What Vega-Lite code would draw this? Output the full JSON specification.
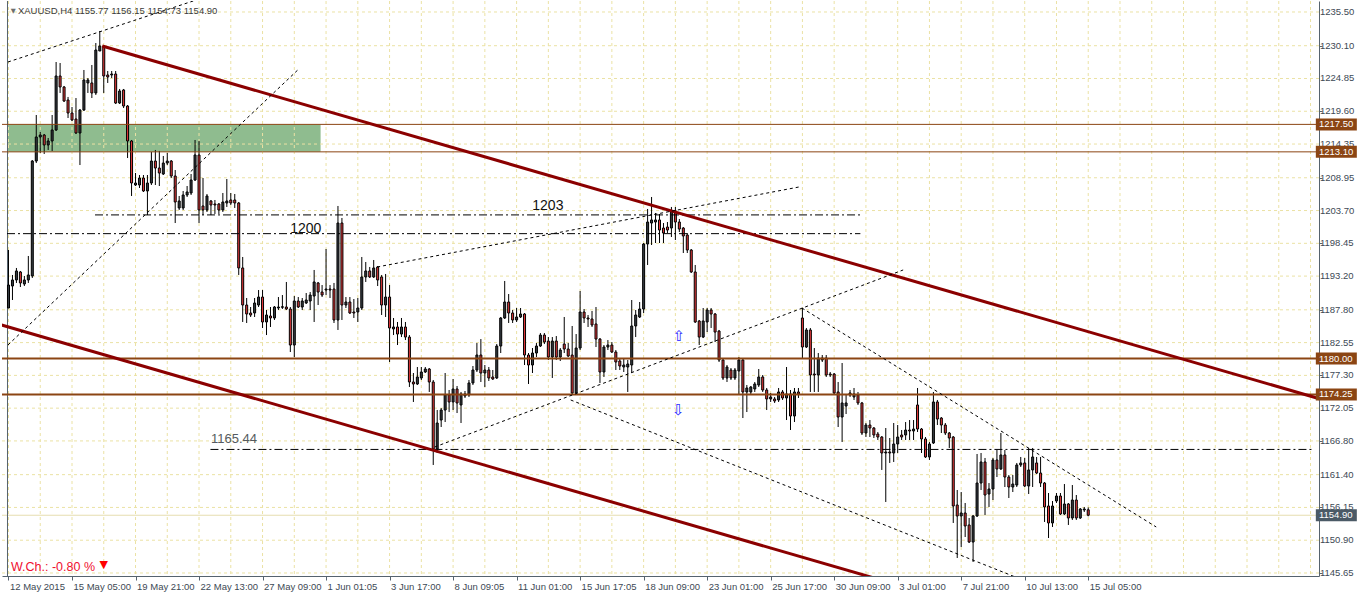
{
"$schema":"https://vega.github.io/schema/vega-lite/v6.json",
"width":1317,"height":575,"autosize":"none",
"padding":{"left":2,"top":1,"right":43,"bottom":18},
"background":"white",
"config":{"view":{"stroke":null},"font":"Liberation Sans","axis":{"labelOverlap":false}},
"datasets":{
"candles":[
{"i":0,"o":1188.09,"h":1197.38,"l":1188.09,"c":1191.77},
{"i":1,"o":1191.61,"h":1193.38,"l":1189.37,"c":1192.58},
{"i":2,"o":1192.58,"h":1194.50,"l":1192.10,"c":1194.02},
{"i":3,"o":1193.86,"h":1194.02,"l":1191.45,"c":1192.10},
{"i":4,"o":1191.93,"h":1193.22,"l":1191.61,"c":1192.58},
{"i":5,"o":1192.58,"h":1196.42,"l":1192.10,"c":1193.38},
{"i":6,"o":1193.22,"h":1211.79,"l":1192.90,"c":1211.63},
{"i":7,"o":1211.63,"h":1219.00,"l":1211.31,"c":1215.48},
{"i":8,"o":1215.48,"h":1216.28,"l":1212.92,"c":1215.80},
{"i":9,"o":1215.80,"h":1215.96,"l":1212.76,"c":1214.20},
{"i":10,"o":1214.20,"h":1215.32,"l":1213.40,"c":1214.84},
{"i":11,"o":1214.84,"h":1219.00,"l":1213.24,"c":1216.60},
{"i":12,"o":1216.60,"h":1227.49,"l":1216.44,"c":1225.25},
{"i":13,"o":1225.25,"h":1227.33,"l":1222.53,"c":1223.49},
{"i":14,"o":1223.49,"h":1223.65,"l":1221.08,"c":1221.24},
{"i":15,"o":1221.40,"h":1221.89,"l":1218.52,"c":1219.32},
{"i":16,"o":1219.32,"h":1220.28,"l":1218.04,"c":1218.20},
{"i":17,"o":1218.36,"h":1221.72,"l":1215.96,"c":1216.12},
{"i":18,"o":1216.12,"h":1219.96,"l":1210.99,"c":1219.80},
{"i":19,"o":1219.80,"h":1226.21,"l":1219.64,"c":1224.61},
{"i":20,"o":1224.13,"h":1224.93,"l":1222.53,"c":1224.61},
{"i":21,"o":1224.13,"h":1227.01,"l":1221.72,"c":1222.53},
{"i":22,"o":1222.53,"h":1230.53,"l":1222.21,"c":1229.41},
{"i":23,"o":1229.25,"h":1232.46,"l":1229.25,"c":1230.05},
{"i":24,"o":1230.05,"h":1230.21,"l":1222.53,"c":1225.25},
{"i":25,"o":1225.41,"h":1226.05,"l":1224.13,"c":1225.09},
{"i":26,"o":1225.41,"h":1226.05,"l":1224.93,"c":1225.57},
{"i":27,"o":1225.57,"h":1226.05,"l":1220.76,"c":1220.92},
{"i":28,"o":1220.92,"h":1223.17,"l":1220.76,"c":1222.85},
{"i":29,"o":1223.01,"h":1223.17,"l":1220.12,"c":1220.44},
{"i":30,"o":1220.44,"h":1220.60,"l":1212.11,"c":1214.84},
{"i":31,"o":1214.84,"h":1215.00,"l":1206.03,"c":1208.11},
{"i":32,"o":1207.79,"h":1209.71,"l":1207.63,"c":1208.11},
{"i":33,"o":1207.79,"h":1209.39,"l":1207.31,"c":1208.91},
{"i":34,"o":1208.91,"h":1209.39,"l":1206.67,"c":1206.83},
{"i":35,"o":1206.83,"h":1209.39,"l":1202.98,"c":1208.11},
{"i":36,"o":1208.11,"h":1213.08,"l":1207.79,"c":1211.63},
{"i":37,"o":1211.63,"h":1213.40,"l":1207.79,"c":1210.51},
{"i":38,"o":1210.51,"h":1213.24,"l":1207.63,"c":1209.71},
{"i":39,"o":1209.55,"h":1212.44,"l":1209.39,"c":1211.31},
{"i":40,"o":1211.31,"h":1212.92,"l":1210.99,"c":1211.63},
{"i":41,"o":1211.63,"h":1211.79,"l":1208.91,"c":1209.23},
{"i":42,"o":1209.23,"h":1210.19,"l":1201.70,"c":1205.07},
{"i":43,"o":1204.11,"h":1206.03,"l":1203.79,"c":1205.23},
{"i":44,"o":1204.11,"h":1206.83,"l":1203.79,"c":1206.19},
{"i":45,"o":1206.19,"h":1207.63,"l":1205.87,"c":1206.67},
{"i":46,"o":1206.51,"h":1209.55,"l":1206.19,"c":1208.59},
{"i":47,"o":1208.59,"h":1215.00,"l":1208.43,"c":1212.60},
{"i":48,"o":1212.60,"h":1214.84,"l":1201.70,"c":1203.79},
{"i":49,"o":1204.43,"h":1208.91,"l":1202.98,"c":1203.79},
{"i":50,"o":1203.79,"h":1206.35,"l":1203.47,"c":1206.03},
{"i":51,"o":1205.23,"h":1205.39,"l":1202.98,"c":1204.59},
{"i":52,"o":1204.75,"h":1205.39,"l":1203.15,"c":1204.59},
{"i":53,"o":1204.75,"h":1204.91,"l":1203.15,"c":1203.79},
{"i":54,"o":1203.79,"h":1206.51,"l":1203.47,"c":1205.07},
{"i":55,"o":1204.91,"h":1208.75,"l":1204.27,"c":1205.23},
{"i":56,"o":1205.39,"h":1206.51,"l":1204.59,"c":1204.91},
{"i":57,"o":1205.39,"h":1206.35,"l":1204.11,"c":1204.91},
{"i":58,"o":1204.91,"h":1205.07,"l":1193.38,"c":1194.50},
{"i":59,"o":1194.50,"h":1196.26,"l":1185.85,"c":1188.57},
{"i":60,"o":1188.57,"h":1189.69,"l":1185.69,"c":1187.13},
{"i":61,"o":1187.29,"h":1188.25,"l":1186.65,"c":1186.97},
{"i":62,"o":1187.29,"h":1189.69,"l":1186.65,"c":1188.89},
{"i":63,"o":1188.57,"h":1190.97,"l":1188.25,"c":1189.85},
{"i":64,"o":1189.85,"h":1190.97,"l":1184.89,"c":1185.85},
{"i":65,"o":1185.85,"h":1187.77,"l":1183.76,"c":1186.97},
{"i":66,"o":1186.81,"h":1188.25,"l":1185.05,"c":1186.49},
{"i":67,"o":1186.49,"h":1188.41,"l":1186.17,"c":1188.25},
{"i":68,"o":1188.09,"h":1189.85,"l":1187.77,"c":1188.25},
{"i":69,"o":1188.20,"h":1190.17,"l":1187.93,"c":1188.30},
{"i":70,"o":1188.25,"h":1192.26,"l":1187.77,"c":1187.93},
{"i":71,"o":1187.93,"h":1188.25,"l":1181.04,"c":1182.16},
{"i":72,"o":1182.16,"h":1190.01,"l":1180.24,"c":1189.21},
{"i":73,"o":1189.21,"h":1189.85,"l":1188.09,"c":1188.25},
{"i":74,"o":1188.25,"h":1189.69,"l":1187.77,"c":1189.21},
{"i":75,"o":1188.89,"h":1190.49,"l":1188.73,"c":1189.37},
{"i":76,"o":1189.21,"h":1190.65,"l":1187.77,"c":1190.17},
{"i":77,"o":1190.01,"h":1194.18,"l":1185.85,"c":1192.26},
{"i":78,"o":1192.10,"h":1192.26,"l":1188.57,"c":1190.65},
{"i":79,"o":1190.65,"h":1191.77,"l":1189.85,"c":1190.17},
{"i":80,"o":1190.97,"h":1197.54,"l":1190.17,"c":1191.13},
{"i":81,"o":1191.13,"h":1191.77,"l":1189.69,"c":1190.97},
{"i":82,"o":1191.13,"h":1192.10,"l":1185.69,"c":1186.17},
{"i":83,"o":1186.17,"h":1204.43,"l":1184.57,"c":1201.70},
{"i":84,"o":1201.70,"h":1202.51,"l":1186.17,"c":1188.57},
{"i":85,"o":1188.57,"h":1189.85,"l":1188.09,"c":1189.05},
{"i":86,"o":1189.05,"h":1189.85,"l":1187.13,"c":1187.29},
{"i":87,"o":1187.45,"h":1189.53,"l":1186.49,"c":1187.29},
{"i":88,"o":1187.45,"h":1189.69,"l":1185.85,"c":1188.09},
{"i":89,"o":1188.09,"h":1196.26,"l":1187.77,"c":1193.06},
{"i":90,"o":1193.06,"h":1195.46,"l":1192.26,"c":1194.02},
{"i":91,"o":1194.02,"h":1194.66,"l":1192.90,"c":1193.06},
{"i":92,"o":1193.06,"h":1195.78,"l":1192.90,"c":1194.50},
{"i":93,"o":1194.66,"h":1194.82,"l":1191.61,"c":1192.58},
{"i":94,"o":1193.06,"h":1193.38,"l":1186.97,"c":1188.57},
{"i":95,"o":1188.57,"h":1193.54,"l":1186.65,"c":1189.85},
{"i":96,"o":1189.85,"h":1191.77,"l":1179.44,"c":1184.89},
{"i":97,"o":1184.73,"h":1186.49,"l":1183.76,"c":1185.05},
{"i":98,"o":1185.05,"h":1185.85,"l":1182.16,"c":1183.92},
{"i":99,"o":1183.92,"h":1186.49,"l":1183.44,"c":1185.05},
{"i":100,"o":1185.05,"h":1185.85,"l":1182.96,"c":1183.44},
{"i":101,"o":1183.44,"h":1183.76,"l":1175.44,"c":1176.24},
{"i":102,"o":1176.24,"h":1177.68,"l":1173.04,"c":1175.92},
{"i":103,"o":1175.92,"h":1178.64,"l":1175.76,"c":1177.04},
{"i":104,"o":1176.88,"h":1178.64,"l":1176.56,"c":1177.84},
{"i":105,"o":1177.84,"h":1178.64,"l":1177.68,"c":1178.32},
{"i":106,"o":1178.32,"h":1178.48,"l":1174.64,"c":1176.24},
{"i":107,"o":1176.24,"h":1176.56,"l":1162.95,"c":1165.51},
{"i":108,"o":1165.51,"h":1171.75,"l":1164.87,"c":1169.67},
{"i":109,"o":1170.15,"h":1172.07,"l":1169.03,"c":1171.75},
{"i":110,"o":1171.75,"h":1177.68,"l":1169.83,"c":1174.16},
{"i":111,"o":1174.16,"h":1174.96,"l":1171.43,"c":1173.04},
{"i":112,"o":1173.04,"h":1176.72,"l":1171.75,"c":1175.12},
{"i":113,"o":1175.12,"h":1175.60,"l":1171.27,"c":1172.88},
{"i":114,"o":1172.56,"h":1174.64,"l":1169.67,"c":1174.32},
{"i":115,"o":1174.00,"h":1174.80,"l":1173.68,"c":1174.32},
{"i":116,"o":1174.16,"h":1176.56,"l":1173.84,"c":1176.08},
{"i":117,"o":1176.08,"h":1178.80,"l":1175.76,"c":1178.16},
{"i":118,"o":1178.16,"h":1182.48,"l":1177.84,"c":1180.56},
{"i":119,"o":1180.56,"h":1183.12,"l":1176.24,"c":1177.68},
{"i":120,"o":1177.68,"h":1178.96,"l":1175.44,"c":1178.16},
{"i":121,"o":1178.16,"h":1178.64,"l":1176.40,"c":1176.88},
{"i":122,"o":1177.04,"h":1178.16,"l":1176.56,"c":1176.72},
{"i":123,"o":1176.88,"h":1182.32,"l":1176.72,"c":1182.00},
{"i":124,"o":1182.00,"h":1186.65,"l":1180.88,"c":1186.49},
{"i":125,"o":1186.49,"h":1192.42,"l":1186.33,"c":1189.05},
{"i":126,"o":1189.05,"h":1190.33,"l":1185.69,"c":1187.29},
{"i":127,"o":1187.29,"h":1187.77,"l":1185.69,"c":1186.17},
{"i":128,"o":1186.17,"h":1188.09,"l":1185.85,"c":1186.65},
{"i":129,"o":1186.65,"h":1188.09,"l":1186.49,"c":1187.13},
{"i":130,"o":1187.13,"h":1187.29,"l":1178.96,"c":1180.56},
{"i":131,"o":1180.56,"h":1180.88,"l":1175.92,"c":1178.96},
{"i":132,"o":1178.96,"h":1181.68,"l":1177.68,"c":1180.88},
{"i":133,"o":1180.88,"h":1182.48,"l":1180.24,"c":1182.00},
{"i":134,"o":1182.00,"h":1184.08,"l":1181.84,"c":1183.76},
{"i":135,"o":1183.76,"h":1184.08,"l":1182.32,"c":1182.64},
{"i":136,"o":1182.80,"h":1183.44,"l":1179.76,"c":1180.24},
{"i":137,"o":1180.24,"h":1183.44,"l":1176.88,"c":1182.80},
{"i":138,"o":1182.80,"h":1183.60,"l":1179.76,"c":1180.24},
{"i":139,"o":1180.24,"h":1181.68,"l":1179.60,"c":1181.36},
{"i":140,"o":1182.32,"h":1186.65,"l":1180.88,"c":1181.52},
{"i":141,"o":1181.52,"h":1182.48,"l":1180.24,"c":1180.40},
{"i":142,"o":1180.56,"h":1185.21,"l":1174.16,"c":1174.48},
{"i":143,"o":1174.48,"h":1183.92,"l":1174.16,"c":1181.68},
{"i":144,"o":1181.68,"h":1190.81,"l":1181.36,"c":1187.45},
{"i":145,"o":1187.45,"h":1187.93,"l":1185.69,"c":1186.49},
{"i":146,"o":1186.49,"h":1186.97,"l":1185.05,"c":1186.33},
{"i":147,"o":1186.33,"h":1187.61,"l":1185.05,"c":1185.37},
{"i":148,"o":1185.53,"h":1188.25,"l":1181.84,"c":1183.12},
{"i":149,"o":1183.12,"h":1183.28,"l":1176.08,"c":1177.84},
{"i":150,"o":1177.84,"h":1182.16,"l":1177.04,"c":1181.84},
{"i":151,"o":1181.84,"h":1182.96,"l":1181.36,"c":1182.16},
{"i":152,"o":1182.16,"h":1182.64,"l":1180.88,"c":1181.04},
{"i":153,"o":1181.04,"h":1181.36,"l":1178.16,"c":1179.44},
{"i":154,"o":1179.60,"h":1180.08,"l":1178.16,"c":1178.80},
{"i":155,"o":1178.64,"h":1180.08,"l":1177.84,"c":1178.96},
{"i":156,"o":1178.64,"h":1179.76,"l":1174.64,"c":1179.12},
{"i":157,"o":1178.96,"h":1189.37,"l":1177.68,"c":1185.21},
{"i":158,"o":1185.21,"h":1187.77,"l":1183.44,"c":1186.97},
{"i":159,"o":1186.65,"h":1189.05,"l":1186.49,"c":1187.93},
{"i":160,"o":1187.93,"h":1198.50,"l":1187.29,"c":1198.34},
{"i":161,"o":1198.34,"h":1203.95,"l":1194.98,"c":1201.86},
{"i":162,"o":1201.70,"h":1205.87,"l":1198.18,"c":1202.19},
{"i":163,"o":1201.86,"h":1203.31,"l":1198.50,"c":1202.19},
{"i":164,"o":1202.19,"h":1203.15,"l":1198.50,"c":1200.58},
{"i":165,"o":1200.90,"h":1201.70,"l":1198.50,"c":1200.10},
{"i":166,"o":1201.06,"h":1201.86,"l":1200.10,"c":1200.58},
{"i":167,"o":1200.90,"h":1204.27,"l":1199.46,"c":1203.63},
{"i":168,"o":1203.63,"h":1204.27,"l":1198.98,"c":1201.86},
{"i":169,"o":1201.86,"h":1202.35,"l":1200.26,"c":1200.74},
{"i":170,"o":1200.90,"h":1201.06,"l":1196.90,"c":1199.62},
{"i":171,"o":1199.78,"h":1200.10,"l":1196.90,"c":1197.38},
{"i":172,"o":1197.38,"h":1197.54,"l":1193.70,"c":1193.86},
{"i":173,"o":1193.86,"h":1194.98,"l":1185.69,"c":1185.85},
{"i":174,"o":1186.01,"h":1186.17,"l":1182.16,"c":1183.44},
{"i":175,"o":1183.44,"h":1188.09,"l":1183.28,"c":1186.01},
{"i":176,"o":1185.85,"h":1188.09,"l":1184.24,"c":1187.77},
{"i":177,"o":1187.77,"h":1188.09,"l":1184.89,"c":1187.13},
{"i":178,"o":1187.13,"h":1187.29,"l":1182.64,"c":1184.24},
{"i":179,"o":1184.40,"h":1184.57,"l":1179.44,"c":1179.76},
{"i":180,"o":1179.76,"h":1180.08,"l":1176.56,"c":1176.88},
{"i":181,"o":1176.88,"h":1178.96,"l":1176.24,"c":1178.64},
{"i":182,"o":1178.16,"h":1178.48,"l":1176.56,"c":1176.88},
{"i":183,"o":1176.88,"h":1178.48,"l":1176.56,"c":1178.16},
{"i":184,"o":1178.00,"h":1180.24,"l":1174.16,"c":1179.76},
{"i":185,"o":1179.76,"h":1180.08,"l":1170.47,"c":1174.64},
{"i":186,"o":1174.64,"h":1175.76,"l":1171.43,"c":1175.28},
{"i":187,"o":1174.64,"h":1175.60,"l":1174.16,"c":1175.44},
{"i":188,"o":1175.12,"h":1176.24,"l":1174.64,"c":1175.92},
{"i":189,"o":1175.76,"h":1178.32,"l":1175.44,"c":1177.04},
{"i":190,"o":1177.04,"h":1177.36,"l":1174.64,"c":1174.96},
{"i":191,"o":1174.96,"h":1175.28,"l":1171.75,"c":1173.52},
{"i":192,"o":1173.52,"h":1174.48,"l":1173.04,"c":1173.84},
{"i":193,"o":1173.52,"h":1173.84,"l":1172.88,"c":1173.20},
{"i":194,"o":1173.36,"h":1175.28,"l":1173.04,"c":1174.64},
{"i":195,"o":1174.64,"h":1174.96,"l":1173.36,"c":1173.68},
{"i":196,"o":1173.68,"h":1178.64,"l":1170.15,"c":1174.32},
{"i":197,"o":1174.32,"h":1174.96,"l":1168.55,"c":1170.79},
{"i":198,"o":1170.79,"h":1175.28,"l":1169.83,"c":1174.64},
{"i":199,"o":1174.64,"h":1175.28,"l":1173.68,"c":1174.32},
{"i":200,"o":1186.49,"h":1188.09,"l":1180.08,"c":1181.84},
{"i":201,"o":1181.84,"h":1184.89,"l":1181.68,"c":1184.57},
{"i":202,"o":1184.57,"h":1184.89,"l":1174.64,"c":1177.36},
{"i":203,"o":1177.52,"h":1181.68,"l":1174.64,"c":1177.36},
{"i":204,"o":1177.36,"h":1180.88,"l":1174.64,"c":1180.08},
{"i":205,"o":1179.76,"h":1180.56,"l":1179.44,"c":1180.08},
{"i":206,"o":1180.08,"h":1180.56,"l":1177.04,"c":1177.36},
{"i":207,"o":1177.52,"h":1177.84,"l":1177.04,"c":1177.36},
{"i":208,"o":1177.52,"h":1177.68,"l":1174.16,"c":1174.48},
{"i":209,"o":1174.64,"h":1176.24,"l":1169.03,"c":1170.63},
{"i":210,"o":1170.63,"h":1179.28,"l":1166.63,"c":1172.88},
{"i":211,"o":1172.40,"h":1174.16,"l":1171.11,"c":1172.88},
{"i":212,"o":1174.16,"h":1174.96,"l":1173.84,"c":1174.48},
{"i":213,"o":1173.84,"h":1175.28,"l":1173.36,"c":1174.32},
{"i":214,"o":1174.16,"h":1174.64,"l":1172.56,"c":1172.88},
{"i":215,"o":1172.88,"h":1173.04,"l":1167.75,"c":1168.07},
{"i":216,"o":1168.07,"h":1169.67,"l":1167.43,"c":1169.35},
{"i":217,"o":1169.35,"h":1170.15,"l":1167.43,"c":1168.87},
{"i":218,"o":1168.87,"h":1169.03,"l":1167.27,"c":1167.75},
{"i":219,"o":1167.91,"h":1168.23,"l":1166.95,"c":1167.43},
{"i":220,"o":1167.43,"h":1167.59,"l":1162.15,"c":1164.87},
{"i":221,"o":1164.87,"h":1168.87,"l":1157.02,"c":1165.03},
{"i":222,"o":1165.03,"h":1167.27,"l":1163.27,"c":1164.87},
{"i":223,"o":1164.87,"h":1169.67,"l":1163.43,"c":1166.31},
{"i":224,"o":1166.31,"h":1169.35,"l":1164.87,"c":1167.43},
{"i":225,"o":1167.75,"h":1168.55,"l":1166.95,"c":1167.43},
{"i":226,"o":1167.75,"h":1169.83,"l":1166.95,"c":1168.55},
{"i":227,"o":1168.55,"h":1170.15,"l":1166.95,"c":1168.39},
{"i":228,"o":1168.39,"h":1170.15,"l":1166.95,"c":1168.71},
{"i":229,"o":1172.56,"h":1175.28,"l":1168.23,"c":1168.71},
{"i":230,"o":1168.71,"h":1168.87,"l":1164.87,"c":1167.11},
{"i":231,"o":1167.11,"h":1167.43,"l":1164.07,"c":1164.23},
{"i":232,"o":1164.23,"h":1166.63,"l":1163.75,"c":1166.31},
{"i":233,"o":1166.47,"h":1174.64,"l":1166.31,"c":1173.04},
{"i":234,"o":1173.04,"h":1173.36,"l":1169.35,"c":1170.31},
{"i":235,"o":1170.47,"h":1170.63,"l":1168.07,"c":1169.35},
{"i":236,"o":1169.35,"h":1169.67,"l":1167.75,"c":1168.07},
{"i":237,"o":1168.07,"h":1168.23,"l":1165.67,"c":1167.27},
{"i":238,"o":1167.43,"h":1167.59,"l":1153.66,"c":1156.38},
{"i":239,"o":1156.54,"h":1158.94,"l":1148.05,"c":1154.78},
{"i":240,"o":1154.78,"h":1158.62,"l":1149.81,"c":1155.26},
{"i":241,"o":1155.26,"h":1156.86,"l":1151.41,"c":1153.18},
{"i":242,"o":1153.34,"h":1154.46,"l":1150.45,"c":1150.61},
{"i":243,"o":1150.61,"h":1154.94,"l":1147.41,"c":1154.78},
{"i":244,"o":1154.78,"h":1164.71,"l":1154.62,"c":1160.06},
{"i":245,"o":1160.06,"h":1164.87,"l":1158.94,"c":1163.43},
{"i":246,"o":1163.43,"h":1164.07,"l":1154.94,"c":1158.14},
{"i":247,"o":1158.30,"h":1160.06,"l":1156.22,"c":1159.10},
{"i":248,"o":1159.10,"h":1164.07,"l":1157.34,"c":1163.75},
{"i":249,"o":1163.75,"h":1165.35,"l":1161.02,"c":1162.31},
{"i":250,"o":1162.31,"h":1168.07,"l":1162.15,"c":1164.55},
{"i":251,"o":1164.55,"h":1165.35,"l":1159.42,"c":1161.02},
{"i":252,"o":1161.02,"h":1161.34,"l":1157.66,"c":1159.42},
{"i":253,"o":1159.42,"h":1161.34,"l":1158.62,"c":1159.90},
{"i":254,"o":1159.74,"h":1163.27,"l":1159.42,"c":1162.95},
{"i":255,"o":1162.95,"h":1164.23,"l":1162.63,"c":1163.27},
{"i":256,"o":1163.27,"h":1164.07,"l":1159.42,"c":1159.58},
{"i":257,"o":1159.58,"h":1165.67,"l":1158.30,"c":1162.15},
{"i":258,"o":1162.15,"h":1165.67,"l":1159.42,"c":1164.23},
{"i":259,"o":1163.27,"h":1164.23,"l":1161.50,"c":1161.66},
{"i":260,"o":1161.66,"h":1164.23,"l":1159.42,"c":1160.06},
{"i":261,"o":1160.06,"h":1160.22,"l":1153.82,"c":1156.22},
{"i":262,"o":1156.38,"h":1158.46,"l":1151.25,"c":1153.66},
{"i":263,"o":1153.66,"h":1157.18,"l":1153.02,"c":1156.38},
{"i":264,"o":1157.18,"h":1158.46,"l":1156.86,"c":1157.98},
{"i":265,"o":1157.98,"h":1158.46,"l":1154.94,"c":1155.10},
{"i":266,"o":1155.10,"h":1159.90,"l":1154.94,"c":1156.70},
{"i":267,"o":1156.70,"h":1156.86,"l":1153.34,"c":1154.46},
{"i":268,"o":1154.46,"h":1159.74,"l":1154.14,"c":1157.34},
{"i":269,"o":1157.34,"h":1158.14,"l":1154.14,"c":1154.46},
{"i":270,"o":1154.46,"h":1156.06,"l":1154.30,"c":1155.90},
{"i":271,"o":1155.74,"h":1156.22,"l":1155.42,"c":1155.90},
{"i":272,"o":1155.77,"h":1156.15,"l":1154.73,"c":1154.90}
],
"ygrid":[{"g":1235.50},{"g":1230.10},{"g":1224.85},{"g":1219.60},{"g":1214.35},{"g":1208.95},{"g":1203.70},{"g":1198.45},{"g":1193.20},{"g":1187.80},{"g":1182.55},{"g":1177.30},{"g":1172.05},{"g":1166.80},{"g":1161.40},{"g":1156.15},{"g":1150.90},{"g":1145.65}],
"xgrid":[{"g":0},{"g":8},{"g":16},{"g":24},{"g":32},{"g":40},{"g":48},{"g":56},{"g":64},{"g":72},{"g":80},{"g":88},{"g":96},{"g":104},{"g":112},{"g":120},{"g":128},{"g":136},{"g":144},{"g":152},{"g":160},{"g":168},{"g":176},{"g":184},{"g":192},{"g":200},{"g":208},{"g":216},{"g":224},{"g":232},{"g":240},{"g":248},{"g":256},{"g":264},{"g":272},{"g":280},{"g":288},{"g":296},{"g":304},{"g":312},{"g":320},{"g":328}],
"boxes":[{"p":1217.50,"kind":"level"},{"p":1213.10,"kind":"level"},{"p":1180.00,"kind":"level"},{"p":1174.25,"kind":"level"},{"p":1154.90,"kind":"bid"}]
},
"layer":[
{"data":{"values":[{"i1":-0.375,"i2":78.625,"p1":1213.1,"p2":1217.5}]},
 "mark":{"type":"rect","color":"#8fbc8f"},
 "encoding":{"x":{"field":"i1","type":"quantitative","scale":{"domain":[-0.375,328.875],"nice":false,"zero":false}},
  "x2":{"field":"i2"},
  "y":{"field":"p1","type":"quantitative","scale":{"domain":[1145.168,1237.26],"nice":false,"zero":false}},
  "y2":{"field":"p2"}}},
{"data":{"name":"ygrid"},
 "mark":{"type":"rule","color":"#ebe2a4","strokeDash":[3,3],"strokeWidth":1},
 "encoding":{"y":{"field":"g","type":"quantitative","scale":{"domain":[1145.168,1237.26],"nice":false,"zero":false}}}},
{"data":{"name":"xgrid"},
 "mark":{"type":"rule","color":"#ebe2a4","strokeDash":[3,3],"strokeWidth":1},
 "encoding":{"x":{"field":"g","type":"quantitative","scale":{"domain":[-0.375,328.875],"nice":false,"zero":false}}}},
{"data":{"values":[{"p":1154.90}]},
 "mark":{"type":"rule","color":"#e6ddb0","strokeWidth":1},
 "encoding":{"y":{"field":"p","type":"quantitative","scale":{"domain":[1145.168,1237.26],"nice":false,"zero":false}}}},
{"data":{"values":[{"b":1}]},
 "mark":{"type":"rule","color":"#56636e","strokeWidth":1},
 "encoding":{"x":{"datum":-0.25,"type":"quantitative","scale":{"domain":[-0.375,328.875],"nice":false,"zero":false}}}},
{"data":{"name":"candles"},
 "mark":{"type":"rule","color":"#000000","strokeWidth":1},
 "encoding":{
  "x":{"field":"i","type":"quantitative","scale":{"domain":[-0.375,328.875],"nice":false,"zero":false},
   "axis":{"orient":"bottom","values":[0,16,32,48,64,80,96,112,128,144,160,176,192,208,224,240,256,272],
    "labelExpr":"['12 May 2015','15 May 05:00','19 May 21:00','22 May 13:00','27 May 09:00','1 Jun 01:05','3 Jun 17:00','8 Jun 09:05','11 Jun 01:00','15 Jun 17:05','18 Jun 09:00','23 Jun 01:00','25 Jun 17:00','30 Jun 09:00','3 Jul 01:00','7 Jul 21:00','10 Jul 13:00','15 Jul 05:00'][round(datum.value/16)]",
    "grid":false,"title":null,"domain":true,"ticks":true,"labels":true,"domainColor":"#56636e","tickColor":"#56636e","tickSize":4,"labelAlign":"left","labelOffset":1,"labelPadding":1,"labelBaseline":"top","labelFont":"Liberation Sans","labelFontSize":9.5,"labelColor":"#3d4954","labelOverlap":false,"labelFlush":false}},
  "y":{"field":"l","type":"quantitative","scale":{"domain":[1145.168,1237.26],"nice":false,"zero":false},
   "axis":{"orient":"right","values":[1235.50,1230.10,1224.85,1219.60,1214.35,1208.95,1203.70,1198.45,1193.20,1187.80,1182.55,1177.30,1172.05,1166.80,1161.40,1156.15,1150.90,1145.65],
    "grid":false,"title":null,"domain":true,"ticks":true,"labels":false,"domainColor":"#56636e","tickColor":"#56636e","tickSize":3}},
  "y2":{"field":"h"}}},
{"data":{"name":"candles"},
 "mark":{"type":"bar","orient":"vertical","size":2,"stroke":"#000000","strokeWidth":1},
 "encoding":{
  "x":{"field":"i","type":"quantitative","scale":{"domain":[-0.375,328.875],"nice":false,"zero":false}},
  "y":{"field":"o","type":"quantitative","scale":{"domain":[1145.168,1237.26],"nice":false,"zero":false}},
  "y2":{"field":"c"},
  "color":{"condition":{"test":"datum.c >= datum.o","value":"#363c42"},"value":"#e5393b"}}},
{"data":{"values":[{"p":1217.50},{"p":1213.10}]},
 "mark":{"type":"rule","color":"#8b4513","strokeWidth":1},
 "encoding":{"y":{"field":"p","type":"quantitative","scale":{"domain":[1145.168,1237.26],"nice":false,"zero":false}}}},
{"data":{"values":[{"p":1180.00},{"p":1174.25}]},
 "mark":{"type":"rule","color":"#8b4513","strokeWidth":2},
 "encoding":{"y":{"field":"p","type":"quantitative","scale":{"domain":[1145.168,1237.26],"nice":false,"zero":false}}}},
{"data":{"values":[{"p":1203.0,"i1":21.8,"i2":214.6},{"p":1200.0,"i1":-0.375,"i2":214.6},{"p":1165.44,"i1":50.875,"i2":328.875}]},
 "mark":{"type":"rule","color":"#000000","strokeWidth":1,"strokeDash":[8,3,2,3]},
 "encoding":{"x":{"field":"i1","type":"quantitative","scale":{"domain":[-0.375,328.875],"nice":false,"zero":false}},
  "x2":{"field":"i2"},
  "y":{"field":"p","type":"quantitative","scale":{"domain":[1145.168,1237.26],"nice":false,"zero":false}}}},
{"data":{"values":[{"i1":23.625,"p1":1230.05,"i2":331.6,"p2":1173.31},{"i1":-3.375,"p1":1185.66,"i2":224.125,"p2":1143.73}]},
 "mark":{"type":"rule","color":"#8b0000","strokeWidth":3,"clip":true},
 "encoding":{"x":{"field":"i1","type":"quantitative","scale":{"domain":[-0.375,328.875],"nice":false,"zero":false}},
  "x2":{"field":"i2"},
  "y":{"field":"p1","type":"quantitative","scale":{"domain":[1145.168,1237.26],"nice":false,"zero":false}},
  "y2":{"field":"p2"}}},
{"data":{"values":[
  {"i1":-0.125,"p1":1227.49,"i2":46.625,"p2":1237.28},
  {"i1":-0.125,"p1":1182.17,"i2":72.875,"p2":1226.21},
  {"i1":92.875,"p1":1194.66,"i2":199.125,"p2":1207.47},
  {"i1":107.375,"p1":1165.83,"i2":225.375,"p2":1194.18},
  {"i1":141.625,"p1":1173.36,"i2":253.625,"p2":1145.01},
  {"i1":199.875,"p1":1188.09,"i2":289.125,"p2":1153.02}]},
 "mark":{"type":"rule","color":"#000000","strokeWidth":1,"strokeDash":[3,3],"clip":true},
 "encoding":{"x":{"field":"i1","type":"quantitative","scale":{"domain":[-0.375,328.875],"nice":false,"zero":false}},
  "x2":{"field":"i2"},
  "y":{"field":"p1","type":"quantitative","scale":{"domain":[1145.168,1237.26],"nice":false,"zero":false}},
  "y2":{"field":"p2"}}},
{"data":{"values":[{"i":135.875,"p":1203.79,"t":"1203"},{"i":74.875,"p":1200.15,"t":"1200"}]},
 "mark":{"type":"text","font":"Liberation Sans","fontSize":14,"color":"#111111","align":"center","baseline":"alphabetic"},
 "encoding":{"x":{"field":"i","type":"quantitative","scale":{"domain":[-0.375,328.875],"nice":false,"zero":false}},
  "y":{"field":"p","type":"quantitative","scale":{"domain":[1145.168,1237.26],"nice":false,"zero":false}},
  "text":{"field":"t"}}},
{"data":{"values":[{"i":51.0,"p":1166.42,"t":"1165.44"}]},
 "mark":{"type":"text","font":"Liberation Sans","fontSize":13,"color":"#555b60","align":"left","baseline":"alphabetic"},
 "encoding":{"x":{"field":"i","type":"quantitative","scale":{"domain":[-0.375,328.875],"nice":false,"zero":false}},
  "y":{"field":"p","type":"quantitative","scale":{"domain":[1145.168,1237.26],"nice":false,"zero":false}},
  "text":{"field":"t"}}},
{"data":{"values":[{"i":168.9,"p":1183.61,"t":"⇧"},{"i":168.7,"p":1171.83,"t":"⇩"}]},
 "mark":{"type":"text","font":"DejaVu Sans","fontSize":15,"color":"#2a2aff","align":"center","baseline":"middle"},
 "encoding":{"x":{"field":"i","type":"quantitative","scale":{"domain":[-0.375,328.875],"nice":false,"zero":false}},
  "y":{"field":"p","type":"quantitative","scale":{"domain":[1145.168,1237.26],"nice":false,"zero":false}},
  "text":{"field":"t"}}},
{"data":{"values":[{"i":2.375,"p":1235.10,"t":"XAUUSD,H4  1155.77 1156.15 1154.73 1154.90"}]},
 "mark":{"type":"text","font":"Liberation Sans","fontSize":9.5,"color":"#3a3a3a","align":"left","baseline":"alphabetic"},
 "encoding":{"x":{"field":"i","type":"quantitative","scale":{"domain":[-0.375,328.875],"nice":false,"zero":false}},
  "y":{"field":"p","type":"quantitative","scale":{"domain":[1145.168,1237.26],"nice":false,"zero":false}},
  "text":{"field":"t"}}},
{"data":{"values":[{"i":1.2,"p":1235.61,"t":"▼"}]},
 "mark":{"type":"text","font":"DejaVu Sans","fontSize":6.5,"color":"#6e6e6e","align":"center","baseline":"middle"},
 "encoding":{"x":{"field":"i","type":"quantitative","scale":{"domain":[-0.375,328.875],"nice":false,"zero":false}},
  "y":{"field":"p","type":"quantitative","scale":{"domain":[1145.168,1237.26],"nice":false,"zero":false}},
  "text":{"field":"t"}}},
{"data":{"values":[{"i":0.625,"p":1145.89,"t":"W.Ch.: -0.80 %"}]},
 "mark":{"type":"text","font":"Liberation Sans","fontSize":12.5,"color":"#f01030","align":"left","baseline":"alphabetic"},
 "encoding":{"x":{"field":"i","type":"quantitative","scale":{"domain":[-0.375,328.875],"nice":false,"zero":false}},
  "y":{"field":"p","type":"quantitative","scale":{"domain":[1145.168,1237.26],"nice":false,"zero":false}},
  "text":{"field":"t"}}},
{"data":{"values":[{"i":24.0,"p":1146.93,"t":"▼"}]},
 "mark":{"type":"text","font":"DejaVu Sans","fontSize":11,"color":"#ff0000","align":"center","baseline":"middle"},
 "encoding":{"x":{"field":"i","type":"quantitative","scale":{"domain":[-0.375,328.875],"nice":false,"zero":false}},
  "y":{"field":"p","type":"quantitative","scale":{"domain":[1145.168,1237.26],"nice":false,"zero":false}},
  "text":{"field":"t"}}},
{"data":{"name":"ygrid"},
 "mark":{"type":"text","font":"Liberation Sans","fontSize":9.5,"color":"#3d4954","align":"left","baseline":"middle"},
 "encoding":{"x":{"datum":330.375,"type":"quantitative","scale":{"domain":[-0.375,328.875],"nice":false,"zero":false}},
  "y":{"field":"g","type":"quantitative","scale":{"domain":[1145.168,1237.26],"nice":false,"zero":false}},
  "text":{"field":"g","type":"quantitative","format":".2f"}}},
{"data":{"name":"boxes"},
 "mark":{"type":"tick","orient":"horizontal","size":41,"thickness":12,"opacity":1},
 "encoding":{"x":{"datum":334.5,"type":"quantitative","scale":{"domain":[-0.375,328.875],"nice":false,"zero":false}},
  "y":{"field":"p","type":"quantitative","scale":{"domain":[1145.168,1237.26],"nice":false,"zero":false}},
  "color":{"field":"kind","type":"nominal","scale":{"domain":["level","bid"],"range":["#8b4513","#4b5a66"]},"legend":null}}},
{"data":{"name":"boxes"},
 "mark":{"type":"text","font":"Liberation Sans","fontSize":9.5,"color":"#ffffff","align":"left","baseline":"middle"},
 "encoding":{"x":{"datum":330.125,"type":"quantitative","scale":{"domain":[-0.375,328.875],"nice":false,"zero":false}},
  "y":{"field":"p","type":"quantitative","scale":{"domain":[1145.168,1237.26],"nice":false,"zero":false}},
  "text":{"field":"p","type":"quantitative","format":".2f"}}}
]
}
